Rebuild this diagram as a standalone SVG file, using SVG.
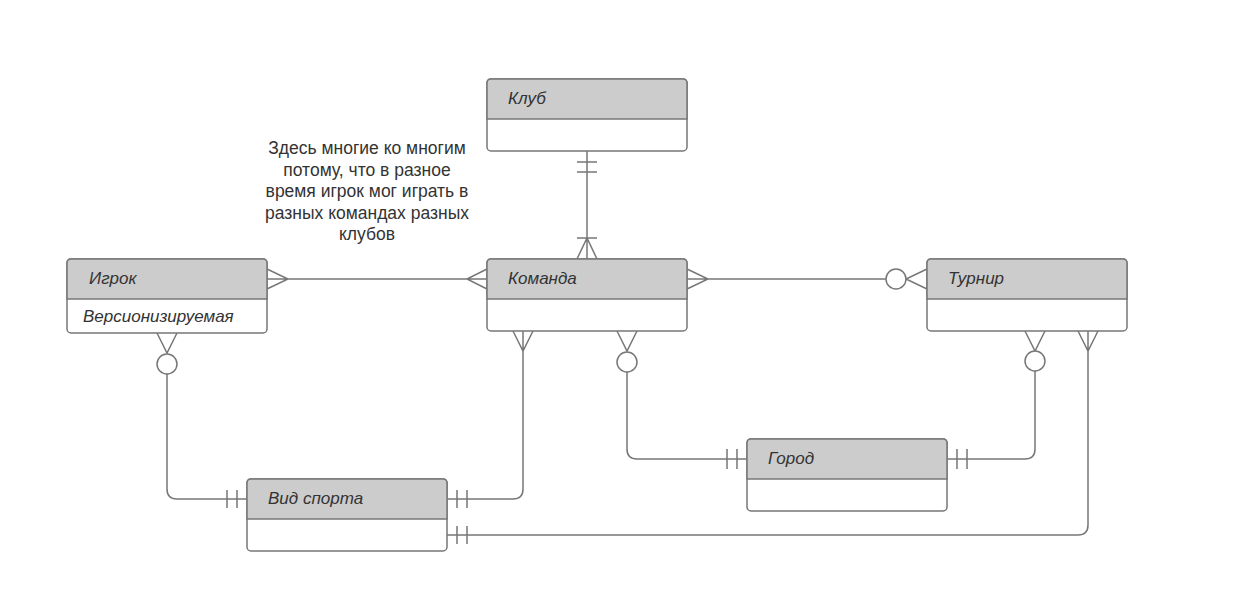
<svg xmlns="http://www.w3.org/2000/svg" width="1243" height="600" viewBox="0 0 1243 600">
<style>
.box{fill:#ffffff;stroke:#777777;stroke-width:1.5}
.hdr{fill:#cccccc;stroke:#777777;stroke-width:1.5}
.t{font-family:"Liberation Sans",Arial,sans-serif;font-size:17px;font-style:italic;fill:#333333}
.note{font-family:"Liberation Sans",Arial,sans-serif;font-size:17.5px;fill:#333333;text-anchor:middle}
.c{fill:none;stroke:#777777;stroke-width:1.5}
.o{fill:#ffffff;stroke:#777777;stroke-width:1.5}
</style>
<rect width="1243" height="600" fill="#ffffff"/>
<g id="connectors">
  <!-- Клуб - Команда -->
  <path class="c" d="M587,151 V259 M577,162 H597 M577,172 H597 M577,238 H597 M577,259 L587,238 L597,259"/>
  <!-- Игрок - Команда -->
  <path class="c" d="M267,279 H487 M267,269 L288,279 L267,289 M487,269 L467,279 L487,289"/>
  <!-- Команда - Турнир -->
  <path class="c" d="M687,279 H886 M687,269 L708,279 L687,289 M927,269 L906,279 L927,289"/>
  <circle class="o" cx="896" cy="279" r="10"/>
  <!-- Игрок - Вид спорта -->
  <path class="c" d="M157,333 L167,353 L177,333 M167,374 V489 Q167,499 177,499 H247 M227,490 V508 M237,490 V508"/>
  <circle class="o" cx="167" cy="364" r="10"/>
  <!-- Команда - Вид спорта -->
  <path class="c" d="M513,331 L523,351 L533,331 M523,331 V489 Q523,499 513,499 H447 M457,490 V508 M467,490 V508"/>
  <!-- Команда - Город -->
  <path class="c" d="M617,331 L627,351 L637,331 M627,372 V449 Q627,459 637,459 H747 M727,449 V469 M737,449 V469"/>
  <circle class="o" cx="627" cy="362" r="10"/>
  <!-- Турнир - Город -->
  <path class="c" d="M1025,331 L1035,351 L1045,331 M1035,371 V449 Q1035,459 1025,459 H947 M957,449 V469 M967,449 V469"/>
  <circle class="o" cx="1035" cy="361" r="10"/>
  <!-- Турнир - Вид спорта -->
  <path class="c" d="M1078,331 L1088,351 L1098,331 M1088,331 V525 Q1088,535 1078,535 H447 M457,526 V544 M467,526 V544"/>
</g>
<g id="note">
  <text class="note" x="367" y="154">Здесь многие ко многим</text>
  <text class="note" x="367" y="176">потому, что в разное</text>
  <text class="note" x="367" y="197">время игрок мог играть в</text>
  <text class="note" x="367" y="219">разных командах разных</text>
  <text class="note" x="367" y="240">клубов</text>
</g>
<g id="klub">
  <rect class="box" x="487" y="79" width="200" height="72" rx="4"/>
  <path class="hdr" d="M487,119 V83 Q487,79 491,79 H683 Q687,79 687,83 V119 Z"/>
  <text class="t" x="508" y="104">Клуб</text>
</g>
<g id="igrok">
  <rect class="box" x="67" y="259" width="200" height="74" rx="4"/>
  <path class="hdr" d="M67,299 V263 Q67,259 71,259 H263 Q267,259 267,263 V299 Z"/>
  <text class="t" x="89" y="284">Игрок</text>
  <text class="t" x="83" y="322">Версионизируемая</text>
</g>
<g id="komanda">
  <rect class="box" x="487" y="259" width="200" height="72" rx="4"/>
  <path class="hdr" d="M487,299 V263 Q487,259 491,259 H683 Q687,259 687,263 V299 Z"/>
  <text class="t" x="508" y="284">Команда</text>
</g>
<g id="turnir">
  <rect class="box" x="927" y="259" width="200" height="72" rx="4"/>
  <path class="hdr" d="M927,299 V263 Q927,259 931,259 H1123 Q1127,259 1127,263 V299 Z"/>
  <text class="t" x="948" y="284">Турнир</text>
</g>
<g id="gorod">
  <rect class="box" x="747" y="439" width="200" height="72" rx="4"/>
  <path class="hdr" d="M747,479 V443 Q747,439 751,439 H943 Q947,439 947,443 V479 Z"/>
  <text class="t" x="768" y="464">Город</text>
</g>
<g id="vid-sporta">
  <rect class="box" x="247" y="479" width="200" height="72" rx="4"/>
  <path class="hdr" d="M247,519 V483 Q247,479 251,479 H443 Q447,479 447,483 V519 Z"/>
  <text class="t" x="268" y="504">Вид спорта</text>
</g>
</svg>
